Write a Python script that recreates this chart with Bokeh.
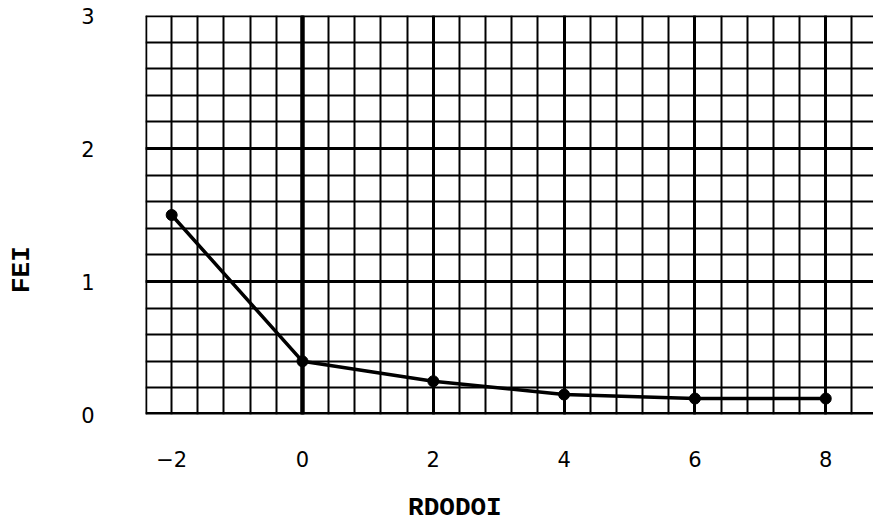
import numpy as np
from bokeh.plotting import figure
from bokeh.models import FixedTicker, Span
from bokeh.embed import file_html
from bokeh.resources import INLINE

# data
rdodoi = [-2, 0, 2, 4, 6, 8]
fei = [1.5, 0.4, 0.25, 0.15, 0.12, 0.12]
x_tick_values = [-2, 0, 2, 4, 6, 8]
y_tick_values = [0, 1, 2, 3]

x_minor = [round(v, 2) for v in np.arange(-2.4, 8.81, 0.4)]
y_minor = [round(v, 2) for v in np.arange(0.0, 3.01, 0.2)]

p = figure(width=873, height=525, x_range=(-2.4, 8.73), y_range=(0, 3),
           output_backend="svg", toolbar_location=None,
           min_border_left=145, min_border_top=15, min_border_bottom=111,
           min_border_right=0, background_fill_color="white",
           border_fill_color="white", outline_line_color=None)

# axes
p.xaxis.ticker = FixedTicker(ticks=x_tick_values)
p.yaxis.ticker = FixedTicker(ticks=y_tick_values)
for ax in (p.xaxis[0], p.yaxis[0]):
    ax.axis_line_color = None
    ax.major_tick_line_color = None
    ax.minor_tick_line_color = None
    ax.major_label_text_font = "DejaVu Sans"
    ax.major_label_text_font_size = "21px"
    ax.major_label_text_color = "black"
    ax.axis_label_text_font = "Liberation Mono"
    ax.axis_label_text_font_size = "26px"
    ax.axis_label_text_font_style = "bold"
    ax.axis_label_text_color = "black"

p.xaxis.major_label_standoff = 30
p.yaxis.major_label_standoff = 45
# trailing no-break spaces shift the titles off-centre, as in the original
pad = "\u00a0" * 7
p.xaxis.axis_label = "RDODOI" + pad
p.yaxis.axis_label = "FEI" + pad
p.xaxis.axis_label_standoff = 23
p.yaxis.axis_label_standoff = 41

# graph-paper grid
p.xgrid.ticker = FixedTicker(ticks=[0, 2, 4, 6, 8], minor_ticks=x_minor)
p.ygrid.ticker = FixedTicker(ticks=[1, 2], minor_ticks=y_minor)
for g in (p.xgrid[0], p.ygrid[0]):
    g.grid_line_color = "black"
    g.grid_line_width = 3
    g.minor_grid_line_color = "black"
    g.minor_grid_line_width = 2

# heavy frame lines
p.add_layout(Span(location=0, dimension="height", line_color="black", line_width=4.5))
p.add_layout(Span(location=-2.4, dimension="height", line_color="black", line_width=3.5))
p.add_layout(Span(location=0, dimension="width", line_color="black", line_width=5))
p.add_layout(Span(location=3, dimension="width", line_color="black", line_width=3.5))

# data
p.line(rdodoi, fei, line_color="black", line_width=3.5)
p.scatter(rdodoi, fei, size=11, fill_color="black", line_color="black")

open("out.html", "w").write(file_html(p, INLINE))
